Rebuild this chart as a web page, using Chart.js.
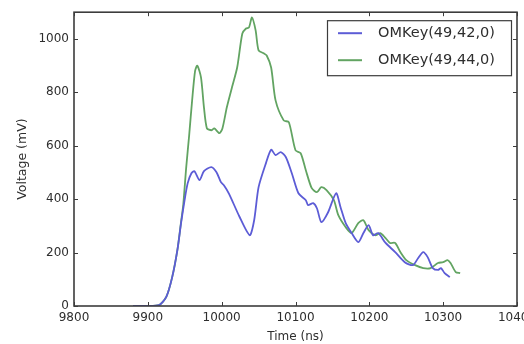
<!DOCTYPE html>
<html>
<head>
<meta charset="utf-8">
<script src="https://cdn.jsdelivr.net/npm/chart.js@4.4.1/dist/chart.umd.min.js"></script>
<style>
  body { margin: 0; background: #fff; overflow: hidden; }
  #wrap { width: 545px; height: 344px; }
</style>
</head>
<body>
<div id="wrap"><canvas id="grafico" width="545" height="344"></canvas></div>
<script>
// waveform of OMKey(49,42,0)
const tempoA = [9880, 9900, 9915, 9925, 9933, 9940, 9945, 9950, 9954, 9959, 9963, 9970, 9976, 9986, 9993, 9999,
    10003, 10010, 10024, 10038, 10044, 10050, 10060, 10067, 10073, 10080, 10087, 10095, 10104, 10114, 10117,
    10124, 10129, 10135, 10144, 10155, 10161, 10168, 10176, 10185, 10192, 10199, 10205, 10212, 10222, 10235,
    10248, 10259, 10266, 10273, 10279, 10286, 10293, 10297, 10302, 10309];
const tensaoA = [0, 0, 3, 34, 108, 209, 310, 400, 460, 497, 505, 471, 505, 520, 501, 464,
    452, 420, 335, 265, 321, 445, 535, 585, 565, 576, 557, 497, 422, 396, 378,
    385, 366, 314, 350, 422, 370, 310, 273, 239, 273, 303, 265, 273, 236, 202,
    164, 153, 179, 202, 183, 142, 135, 142, 123, 108];

// waveform of OMKey(49,44,0)
const tempoB = [9880, 9900, 9915, 9925, 9933, 9940, 9945, 9948, 9952, 9956, 9960, 9964, 9967, 9972, 9976, 9980,
    9986, 9990, 9997, 10001, 10007, 10014, 10021, 10028, 10033, 10037, 10041, 10046, 10050, 10057, 10061,
    10067, 10073, 10084, 10091, 10100, 10107, 10114, 10122, 10129, 10135, 10142, 10152, 10158, 10168, 10176,
    10185, 10192, 10199, 10208, 10215, 10222, 10228, 10235, 10242, 10250, 10262, 10273, 10283, 10293, 10300,
    10306, 10310, 10317, 10323];
const tensaoB = [0, 0, 3, 34, 108, 209, 315, 380, 520, 640, 770, 880, 900, 856, 744, 665,
    658, 665, 647, 665, 744, 819, 893, 1020, 1039, 1043, 1080, 1032, 957, 946, 938,
    893, 770, 695, 688, 583, 572, 508, 441, 426, 445, 434, 396, 340, 295, 273,
    310, 321, 284, 265, 273, 254, 236, 236, 202, 172, 153, 142, 142, 161, 164,
    172, 161, 127, 123];

const rotulos = ['OMKey(49,42,0)', 'OMKey(49,44,0)'];
const ticksX = [9800, 9900, 10000, 10100, 10200, 10300, 10400];
const ticksY = [0, 200, 400, 600, 800, 1000];

const cores = {
    azul: '#5c5cd6',
    verde: '#62a462',
    moldura: '#3c3c3c',
    texto: '#2e2e2e'
};

const fonte = 'DejaVu Sans';

function montaPontos(tempos, tensoes) {
    return tempos.map((t, i) => ({ x: t, y: tensoes[i] }));
}

// frame with inward ticks on all four sides
const moldura = {
    id: 'moldura',
    afterDatasetsDraw(chart) {
        const { ctx, chartArea: a, scales } = chart;
        ctx.save();
        ctx.strokeStyle = cores.moldura;
        ctx.lineWidth = 1;
        ctx.beginPath();
        scales.x.ticks.forEach(t => {
            const px = Math.round(scales.x.getPixelForValue(t.value)) + 0.5;
            ctx.moveTo(px, a.bottom); ctx.lineTo(px, a.bottom - 4);
            ctx.moveTo(px, a.top); ctx.lineTo(px, a.top + 4);
        });
        scales.y.ticks.forEach(t => {
            const py = Math.round(scales.y.getPixelForValue(t.value)) + 0.5;
            ctx.moveTo(a.left, py); ctx.lineTo(a.left + 4, py);
            ctx.moveTo(a.right, py); ctx.lineTo(a.right - 4, py);
        });
        ctx.stroke();
        ctx.lineWidth = 1.6;
        ctx.strokeRect(a.left, a.top, a.right - a.left, a.bottom - a.top);
        ctx.restore();
    }
};

// boxed legend in the upper right corner of the plot
const legendaCaixa = {
    id: 'legendaCaixa',
    afterDraw(chart) {
        const { ctx, chartArea: a } = chart;
        const larg = 184, alt = 55;
        const x0 = a.right - 6 - larg, y0 = a.top + 8;
        ctx.save();
        ctx.fillStyle = '#fff';
        ctx.fillRect(x0, y0, larg, alt);
        ctx.strokeStyle = cores.moldura;
        ctx.lineWidth = 1.2;
        ctx.strokeRect(x0 + 0.5, y0 + 0.5, larg, alt);
        ctx.font = '14.5px "' + fonte + '"';
        ctx.textBaseline = 'middle';
        chart.data.datasets.forEach((ds, i) => {
            const y = y0 + 13 + i * 27;
            ctx.strokeStyle = ds.borderColor;
            ctx.lineWidth = 2;
            ctx.beginPath();
            ctx.moveTo(x0 + 11, y);
            ctx.lineTo(x0 + 35, y);
            ctx.stroke();
            ctx.fillStyle = cores.texto;
            ctx.fillText(ds.label, x0 + 51, y);
        });
        ctx.restore();
    }
};

const grafico = new Chart(document.getElementById('grafico'), {
    type: 'line',
    data: {
        datasets: [{
            label: rotulos[0],
            data: montaPontos(tempoA, tensaoA),
            borderColor: cores.azul,
            borderWidth: 1.8,
            pointRadius: 0,
            tension: 0.25
        }, {
            label: rotulos[1],
            data: montaPontos(tempoB, tensaoB),
            borderColor: cores.verde,
            borderWidth: 1.8,
            pointRadius: 0,
            tension: 0.25
        }]
    },
    options: {
        responsive: false,
        devicePixelRatio: 1,
        animation: false,
        layout: { padding: { top: 12, right: 28, bottom: 0, left: 0 } },
        plugins: {
            legend: { display: false },
            tooltip: { enabled: false }
        },
        scales: {
            x: {
                type: 'linear',
                min: 9800,
                max: 10400,
                afterBuildTicks: s => { s.ticks = ticksX.map(v => ({ value: v })); },
                afterFit: s => { s.height = 38; },
                grid: { display: false, drawTicks: false },
                border: { display: false },
                ticks: {
                    padding: 5,
                    maxRotation: 0,
                    color: cores.texto,
                    font: { family: fonte, size: 12 },
                    callback: v => String(v)
                },
                title: {
                    display: true,
                    text: 'Time (ns)',
                    color: cores.texto,
                    padding: 0,
                    font: { family: fonte, size: 12 }
                }
            },
            y: {
                type: 'linear',
                min: 0,
                max: 1100,
                afterBuildTicks: s => { s.ticks = ticksY.map(v => ({ value: v })); },
                afterFit: s => { s.width = 74; },
                grid: { display: false, drawTicks: false },
                border: { display: false },
                ticks: {
                    padding: 5,
                    color: cores.texto,
                    font: { family: fonte, size: 12 },
                    callback: v => String(v)
                },
                title: {
                    display: true,
                    text: 'Voltage (mV)',
                    color: cores.texto,
                    padding: { top: 15, bottom: 0 },
                    font: { family: fonte, size: 12.5 }
                }
            }
        }
    },
    plugins: [moldura, legendaCaixa]
});
</script>
</body>
</html>
